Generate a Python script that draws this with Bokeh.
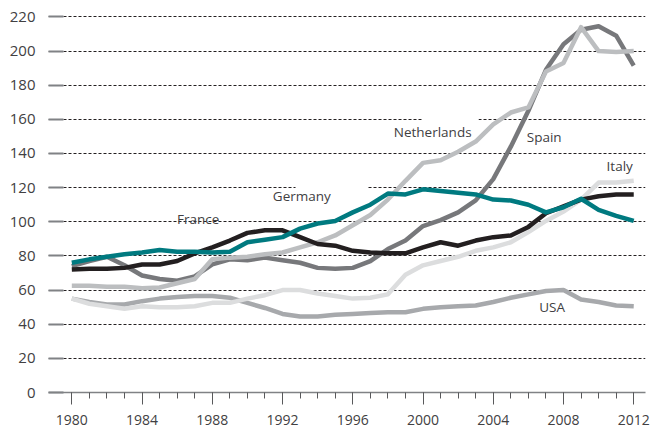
from bokeh.plotting import figure
from bokeh.models import Range1d, FixedTicker, Label, BoxAnnotation
from bokeh.embed import file_html
from bokeh.resources import INLINE

years = [1980, 1981, 1982, 1983, 1984, 1985, 1986, 1987, 1988, 1989,
         1990, 1991, 1992, 1993, 1994, 1995, 1996, 1997, 1998, 1999,
         2000, 2001, 2002, 2003, 2004, 2005, 2006, 2007, 2008, 2009,
         2010, 2011, 2012]

france = [72, 72.5, 72.5, 73, 75, 75, 77, 81.5, 85, 89,
          93.5, 95, 95, 91, 87, 86, 83, 82, 81.5, 81.5,
          85, 88, 86, 89, 91, 92, 97, 105, 109, 113,
          115, 116, 116]
germany = [76, 78, 79.5, 81, 82, 83.5, 82.5, 82.5, 82, 82.5,
           88, 89.5, 91, 96, 99, 100.5, 105.5, 110, 116.5, 116,
           119, 118, 117, 116, 113, 112.5, 110, 105.5, 108.5, 113.5,
           107, 103.5, 100.5]
spain = [74, 77, 79.5, 74.5, 68.5, 66.5, 65.5, 68, 75, 78,
         77.5, 79, 77.5, 76, 73, 72.5, 73, 77, 84, 89,
         97.5, 101, 105.5, 112.5, 125, 144, 165, 189, 204, 212.5,
         214.5, 209, 191.5]
netherlands = [62.5, 62.5, 62, 62, 61, 61.5, 64, 66.5, 78, 79,
               79.5, 81, 82, 85, 88, 92, 98, 104, 113, 124,
               134.5, 136, 141, 147, 157, 164, 167, 188, 193, 214,
               200, 199.5, 200]
italy = [55, 52, 50.5, 49, 50.5, 50, 50, 50.5, 52.5, 52.5,
         55, 57, 60, 60, 58, 56.5, 55, 55.5, 57.5, 69,
         74.5, 77, 79.5, 83, 85, 88, 94, 100.5, 106, 113,
         123, 123, 124]
usa = [55, 53, 51.5, 51.5, 53.5, 55, 56, 56.5, 56.5, 55.5,
       52.5, 49.5, 46, 44.5, 44.5, 45.5, 46, 46.5, 47, 47,
       49, 50, 50.5, 51, 53, 55.5, 57.5, 59.5, 60, 54.5,
       53, 51, 50.5]

y_ticks = [0, 20, 40, 60, 80, 100, 120, 140, 160, 180, 200, 220]
x_major = [1980, 1984, 1988, 1992, 1996, 2000, 2004, 2008, 2012]

# label name, x (year), y (value)
labels = [("France", 1987.2, 101.7), ("Germany", 1993.1, 115.2),
          ("Netherlands", 2000.55, 152.7), ("Spain", 2006.9, 149.4),
          ("Italy", 2011.2, 132.8), ("USA", 2007.35, 49.9)]

FONT = "Open Sans"
TXT = "#414042"

p = figure(width=653, height=432, output_backend="svg", toolbar_location=None,
           x_range=Range1d(1978.673, 2012.67), y_range=Range1d(0, 222),
           min_border_left=48, min_border_right=8, min_border_top=13,
           min_border_bottom=40)
p.outline_line_color = None
p.background_fill_color = "white"
p.border_fill_color = "white"

p.xgrid.grid_line_color = None
p.ygrid.ticker = FixedTicker(ticks=y_ticks)
p.ygrid.grid_line_color = "#231f20"
p.ygrid.grid_line_width = 1
p.ygrid.grid_line_dash = "3 2"

ya = p.yaxis[0]
ya.ticker = FixedTicker(ticks=y_ticks)
ya.axis_line_color = None
ya.major_tick_in = 15
ya.major_tick_out = 0
ya.major_tick_line_color = "#808285"
ya.major_tick_line_width = 2
ya.minor_tick_line_color = None
ya.major_label_standoff = 13
ya.major_label_text_font = FONT
ya.major_label_text_font_size = "15px"
ya.major_label_text_color = TXT

xa = p.xaxis[0]
xa.ticker = FixedTicker(ticks=x_major, minor_ticks=years)
xa.axis_line_color = "#808285"
xa.axis_line_width = 1.5
xa.major_tick_in = 0
xa.major_tick_out = 12
xa.minor_tick_in = 0
xa.minor_tick_out = 6
xa.major_tick_line_color = "#58595b"
xa.minor_tick_line_color = "#58595b"
xa.major_tick_line_width = 1
xa.minor_tick_line_width = 1
xa.major_label_standoff = 10
xa.major_label_text_font = FONT
xa.major_label_text_font_size = "14px"
xa.major_label_text_color = TXT

# gaps in gridlines
p.add_layout(BoxAnnotation(left=1992.74, right=1996.84, bottom=118, top=122,
                           fill_color="white", fill_alpha=1, line_color=None,
                           level="underlay"))
p.add_layout(BoxAnnotation(left=1999.94, right=2003.16, bottom=158, top=162,
                           fill_color="white", fill_alpha=1, line_color=None,
                           level="underlay"))

series = [(usa, "#a7a9ac"), (italy, "#dcddde"), (spain, "#77787b"),
          (netherlands, "#bcbec0"), (france, "#231f20"), (germany, "#007a80")]
for vals, col in series:
    p.line(years, vals, line_color=col, line_width=4.5, line_join="round")

for name, lx, ly in labels:
    p.add_layout(Label(x=lx, y=ly, text=name, text_align="center",
                       text_baseline="middle", text_font=FONT,
                       text_font_size="13.5px", text_color=TXT))

open("out.html", "w").write(file_html(p, INLINE))
